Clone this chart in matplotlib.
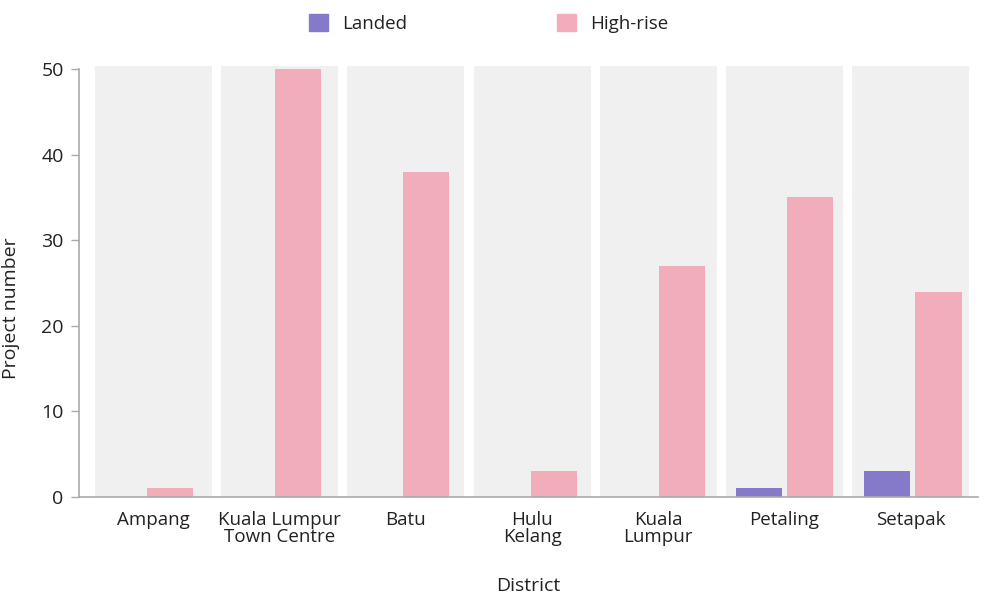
import matplotlib.pyplot as plt
from matplotlib.patches import Patch
import numpy as np

districts = ["Ampang", "Kuala Lumpur\nTown Centre", "Batu", "Hulu\nKelang",
             "Kuala\nLumpur", "Petaling", "Setapak"]
landed = [0, 0, 0, 0, 0, 1, 3]
high_rise = [1, 50, 38, 3, 27, 35, 24]

c_landed = "#8579c9"
c_high = "#f2adbb"
band_color = "#f0f0f0"
axis_color = "#aaaaaa"
text_color = "#222222"

plt.rcParams["font.family"] = ["Open Sans", "DejaVu Sans"]

fig = plt.figure(figsize=(9.85, 5.97), dpi=100)
ax = fig.add_axes([0.0802, 0.1675, 0.9127, 0.7169])

x = np.arange(len(districts))
band_w = 0.927
bar_w = 0.368
gap = 0.04
# bars in the original sit on a slightly wider step than the background bands
bar_step = 1.0143
pink_left = -0.0515 + bar_step * x

for xi in x:
    ax.bar(xi, 50.3, width=band_w, color=band_color, zorder=0, clip_on=False)

ax.bar(pink_left - gap - bar_w, landed, width=bar_w, align="edge",
       color=c_landed, zorder=2)
ax.bar(pink_left, high_rise, width=bar_w, align="edge", color=c_high, zorder=2)

ax.set_xlim(-0.590, 6.533)
ax.set_ylim(0, 50)
ax.set_yticks([0, 10, 20, 30, 40, 50])
ax.set_xticks(x)
ax.set_xticklabels(districts, linespacing=0.95)
ax.tick_params(axis="x", length=0, pad=10, labelsize=13.5, colors=text_color)
ax.tick_params(axis="y", length=6, width=1, color=axis_color, pad=5,
               labelsize=14, labelcolor=text_color)

for s in ["top", "right"]:
    ax.spines[s].set_visible(False)
for s in ["left", "bottom"]:
    ax.spines[s].set_color(axis_color)
    ax.spines[s].set_linewidth(1.2)

ax.set_ylabel("Project number", fontsize=14, color=text_color)
ax.yaxis.set_label_coords(-0.066, 0.44)
ax.set_xlabel("District", fontsize=14, color=text_color, labelpad=22)

handles = [Patch(color=c_landed, label="Landed"),
           Patch(color=c_high, label="High-rise")]
fig.legend(handles=handles, loc="center", bbox_to_anchor=(0.496, 0.96), ncol=2,
           frameon=False, fontsize=13.5, handlelength=1.0, handleheight=1.0,
           handletextpad=0.75, columnspacing=8.0, labelcolor=text_color)

fig.savefig("out.png", dpi=100)
